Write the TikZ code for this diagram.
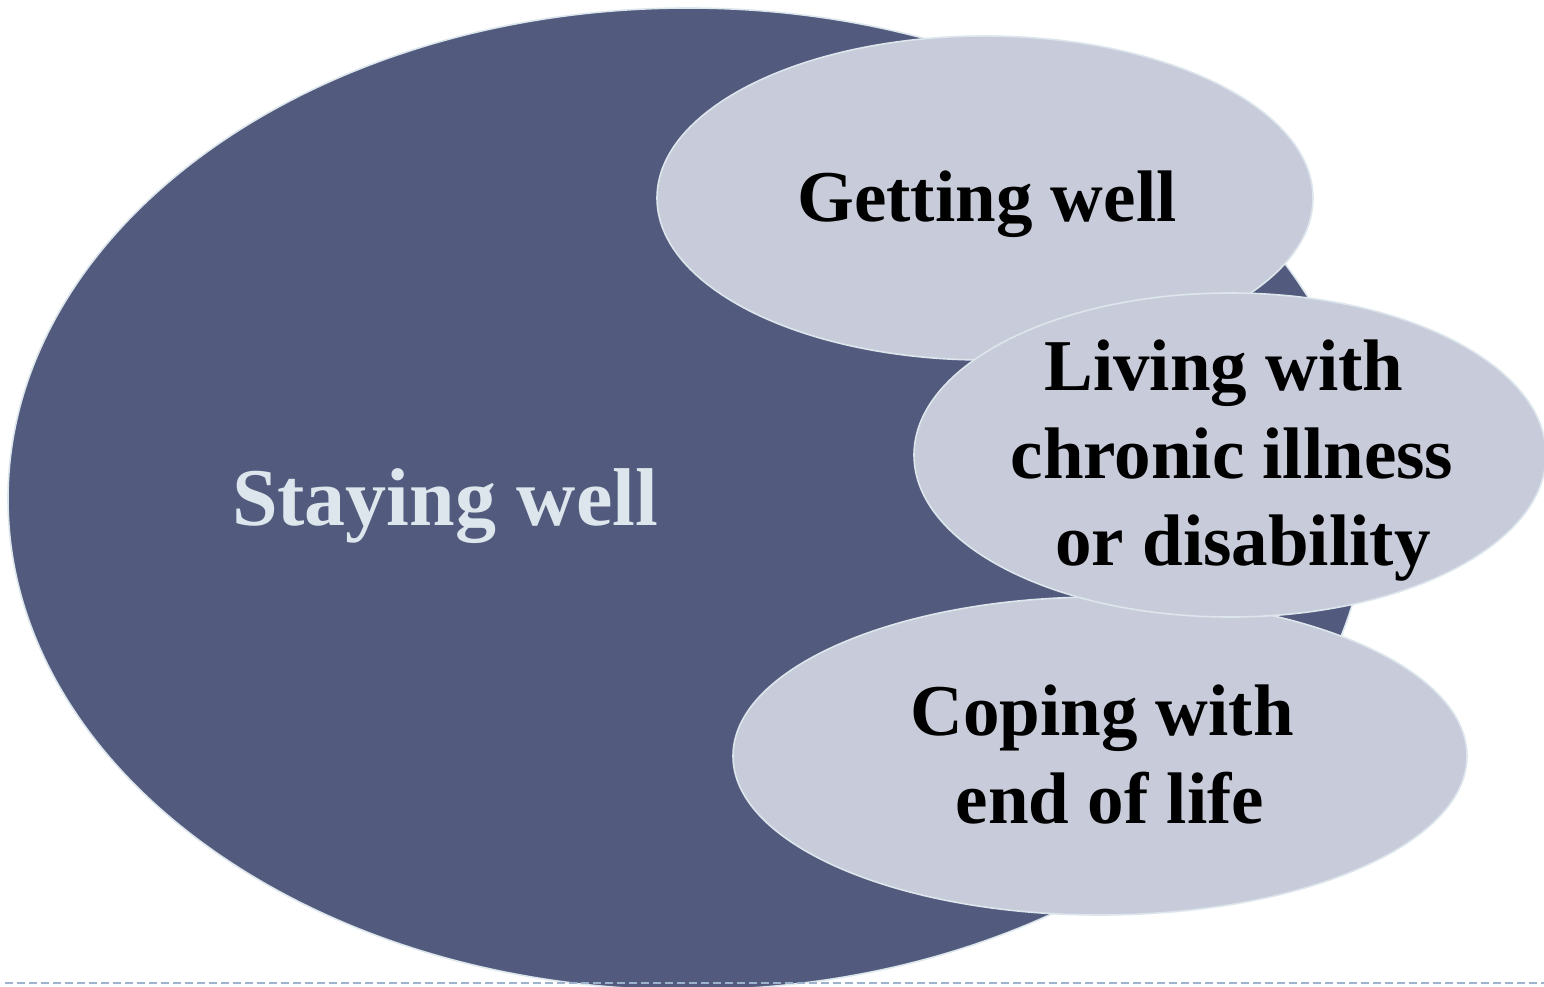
\documentclass[tikz,border=0pt]{standalone}
\usepackage{fontspec}
\setmainfont{Liberation Serif}
\usetikzlibrary{shapes.geometric}
\definecolor{deepblue}{HTML}{525B7D}
\definecolor{paleblue}{HTML}{C8CCDA}
\definecolor{rimblue}{HTML}{DCE6EC}
\definecolor{dashblue}{HTML}{9DB3CB}
\tikzset{
  blob/.style={ellipse, inner sep=0pt, draw=rimblue, line width=1.6pt},
  bigblob/.style={blob, fill=deepblue},
  smallblob/.style={blob, fill=paleblue},
  darktext/.style={anchor=base, inner sep=0pt, text=black,
    font=\fontsize{73}{88}\selectfont\bfseries},
  bigtext/.style={anchor=base, inner sep=0pt, text=rimblue,
    font=\fontsize{82}{88}\selectfont\bfseries},
  rule/.style={draw=dashblue, line width=1.8pt, dash pattern=on 8pt off 4pt}
}
\begin{document}
\begin{tikzpicture}[x=1pt,y=-1pt]
  \useasboundingbox (0,0) rectangle (1544,987);
  \begin{scope}
    \clip (0,0) rectangle (1544,987);
    % ellipses, back to front
    \node[bigblob, minimum width=1360pt, minimum height=982pt] (stay) at (688,499) {};
    \node[smallblob, minimum width=656pt, minimum height=324pt] (get) at (985,198) {};
    \node[smallblob, minimum width=734pt, minimum height=318pt] (cope) at (1100,756) {};
    \node[smallblob, minimum width=632pt, minimum height=324pt] (live) at (1230,455) {};
    % labels
    \node[bigtext] (staytext) at (445,525) {Staying well};
    \node[darktext] (gettext) at (987,222) {Getting well};
    \node[darktext] (livetextA) at (1224,390) {Living with};
    \node[darktext] (livetextB) at (1232,478) {chronic illness};
    \node[darktext] (livetextC) at (1243,565) {or disability};
    \node[darktext] (copetextA) at (1102,735) {Coping with};
    \node[darktext] (copetextB) at (1110,823) {end of life};
  \end{scope}
  \coordinate (ruleL) at (5,983);
  \coordinate (ruleR) at (1544,983);
  \draw[rule] (ruleL) -- (ruleR);
\end{tikzpicture}
\end{document}
